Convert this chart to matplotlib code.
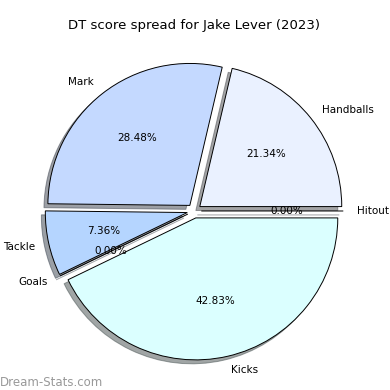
import matplotlib
matplotlib.use("Agg")
import matplotlib.pyplot as plt

labels = ["Handballs", "Mark", "Tackle", "Goals", "Kicks", "Hitout"]
values = [21.34, 28.48, 7.36, 0.0, 42.83, 0.0]
colors = ["#eaf1ff", "#c4d9ff", "#b5d5ff", "#cde8ff", "#dbffff", "#e0eaff"]

fig = plt.figure(figsize=(3.9, 3.9), dpi=100)
ax = fig.add_axes([0.043, 0.004, 0.91, 0.91])
ax.pie(values, labels=labels, colors=colors, autopct="%1.2f%%",
       explode=[0.05] * len(values), shadow=True, startangle=0,
       wedgeprops={"edgecolor": "black", "linewidth": 0.7},
       textprops={"fontsize": 7.5})
ax.set_xlim(-1.25, 1.25)
ax.set_ylim(-1.25, 1.25)
ax.set_aspect("equal")
ax.set_title("DT score spread for Jake Lever (2023)", fontsize=9.5, pad=3)
fig.text(0.0, 0.01, "Dream-Stats.com", fontsize=8.5, color="#999999")
fig.savefig("out.png", dpi=100)
